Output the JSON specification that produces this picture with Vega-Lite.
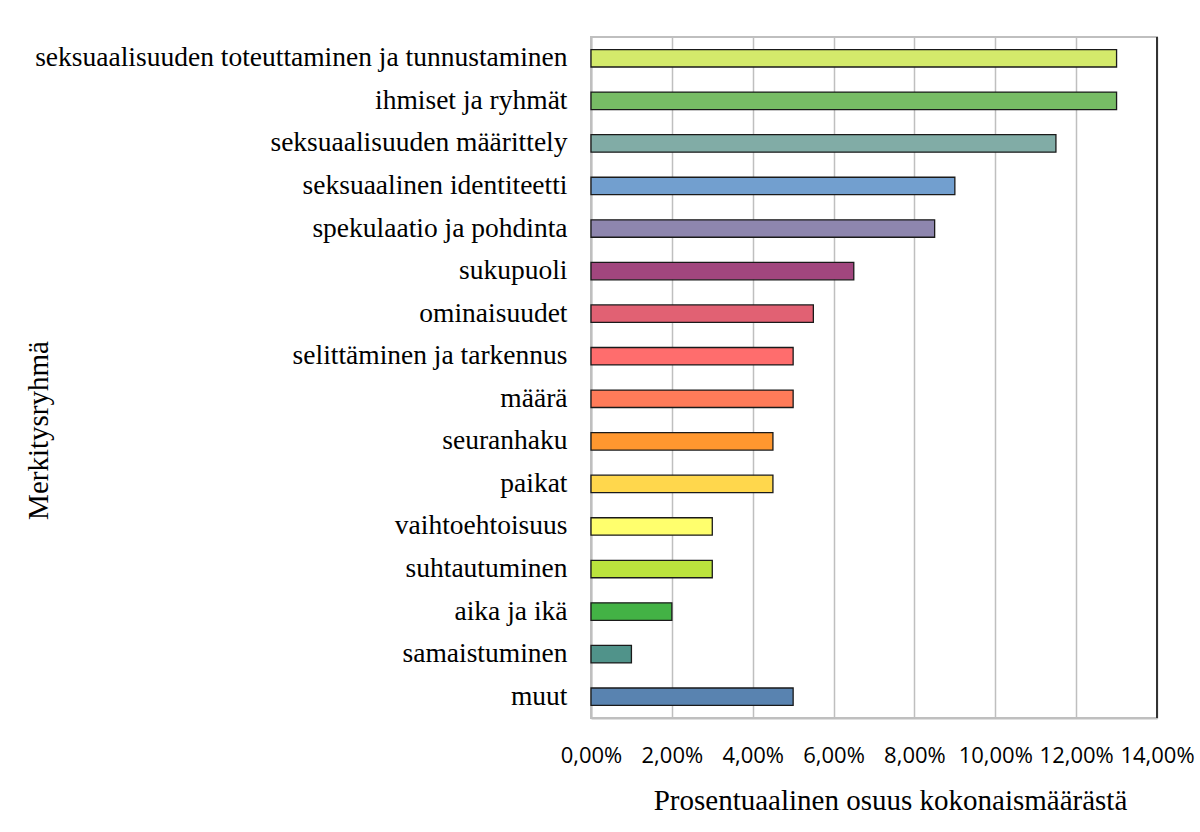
{
  "$schema": "https://vega.github.io/schema/vega-lite/v6.json",
  "width": 566,
  "height": 681,
  "autosize": {"type": "none"},
  "padding": {"left": 591, "top": 37, "right": 43, "bottom": 114},
  "background": "white",
  "data": {
    "values": [
      {"ryhma": "seksuaalisuuden toteuttaminen ja tunnustaminen", "osuus": 0.13},
      {"ryhma": "ihmiset ja ryhmät", "osuus": 0.13},
      {"ryhma": "seksuaalisuuden määrittely", "osuus": 0.115},
      {"ryhma": "seksuaalinen identiteetti", "osuus": 0.09},
      {"ryhma": "spekulaatio ja pohdinta", "osuus": 0.085},
      {"ryhma": "sukupuoli", "osuus": 0.065},
      {"ryhma": "ominaisuudet", "osuus": 0.055},
      {"ryhma": "selittäminen ja tarkennus", "osuus": 0.05},
      {"ryhma": "määrä", "osuus": 0.05},
      {"ryhma": "seuranhaku", "osuus": 0.045},
      {"ryhma": "paikat", "osuus": 0.045},
      {"ryhma": "vaihtoehtoisuus", "osuus": 0.03},
      {"ryhma": "suhtautuminen", "osuus": 0.03},
      {"ryhma": "aika ja ikä", "osuus": 0.02},
      {"ryhma": "samaistuminen", "osuus": 0.01},
      {"ryhma": "muut", "osuus": 0.05}
    ]
  },
  "config": {
    "view": {"stroke": "#bfbfbf", "strokeWidth": 2},
    "axis": {"gridColor": "#bfbfbf", "gridWidth": 1.5}
  },
  "layer": [
    {
      "mark": {"type": "bar", "stroke": "#1a1a1a", "strokeWidth": 1.3},
      "encoding": {
        "y": {
          "field": "ryhma",
          "type": "nominal",
          "sort": null,
          "scale": {"paddingInner": 0.59, "paddingOuter": 0.295},
          "axis": {
            "title": "Merkitysryhmä",
            "titleFont": "Liberation Serif",
            "titleFontSize": 29,
            "titleFontWeight": "normal",
            "titleColor": "#000",
            "titleAngle": -90,
            "titleAlign": "center",
            "titleBaseline": "middle",
            "titleX": -553,
            "titleY": 393,
            "labelFont": "Liberation Serif",
            "labelFontSize": 27.5,
            "labelColor": "#000",
            "labelPadding": 24,
            "labelLimit": 0,
            "ticks": false,
            "domainColor": "#bfbfbf",
            "domainWidth": 2,
            "grid": false
          }
        },
        "x": {
          "field": "osuus",
          "type": "quantitative",
          "scale": {"domain": [0, 0.14], "nice": false},
          "axis": {
            "values": [0, 0.02, 0.04, 0.06, 0.08, 0.1, 0.12, 0.14],
            "labelExpr": "replace(format(datum.value, '.2%'), '.', ',')",
            "labelFont": "Open Sans",
            "labelFontSize": 22,
            "labelColor": "#000",
            "labelPadding": 27,
            "labelFlush": false,
            "labelOverlap": false,
            "ticks": false,
            "grid": true,
            "domainColor": "#bfbfbf",
            "domainWidth": 2,
            "title": "Prosentuaalinen osuus kokonaismäärästä",
            "titleFont": "Liberation Serif",
            "titleFontSize": 29,
            "titleFontWeight": "normal",
            "titleColor": "#000",
            "titleX": 299,
            "titleY": 82,
            "titleAlign": "center",
            "titleBaseline": "middle"
          }
        },
        "color": {
          "field": "ryhma",
          "type": "nominal",
          "legend": null,
          "scale": {
            "domain": ["seksuaalisuuden toteuttaminen ja tunnustaminen", "ihmiset ja ryhmät", "seksuaalisuuden määrittely", "seksuaalinen identiteetti", "spekulaatio ja pohdinta", "sukupuoli", "ominaisuudet", "selittäminen ja tarkennus", "määrä", "seuranhaku", "paikat", "vaihtoehtoisuus", "suhtautuminen", "aika ja ikä", "samaistuminen", "muut"],
            "range": ["#d4ea6b", "#77bc65", "#81aca6", "#729fcf", "#8e86ae", "#a1467e", "#e16173", "#ff6d6d", "#ff7b59", "#ff972f", "#ffd74c", "#ffff6d", "#bbe33d", "#43b245", "#50938a", "#5983b0"]
          }
        }
      }
    },
    {
      "mark": {"type": "rule", "color": "#333333", "strokeWidth": 2},
      "encoding": {"x": {"datum": 0.14, "type": "quantitative"}},
      "data": {"values": [{"a": 1}]}
    }
  ]
}
